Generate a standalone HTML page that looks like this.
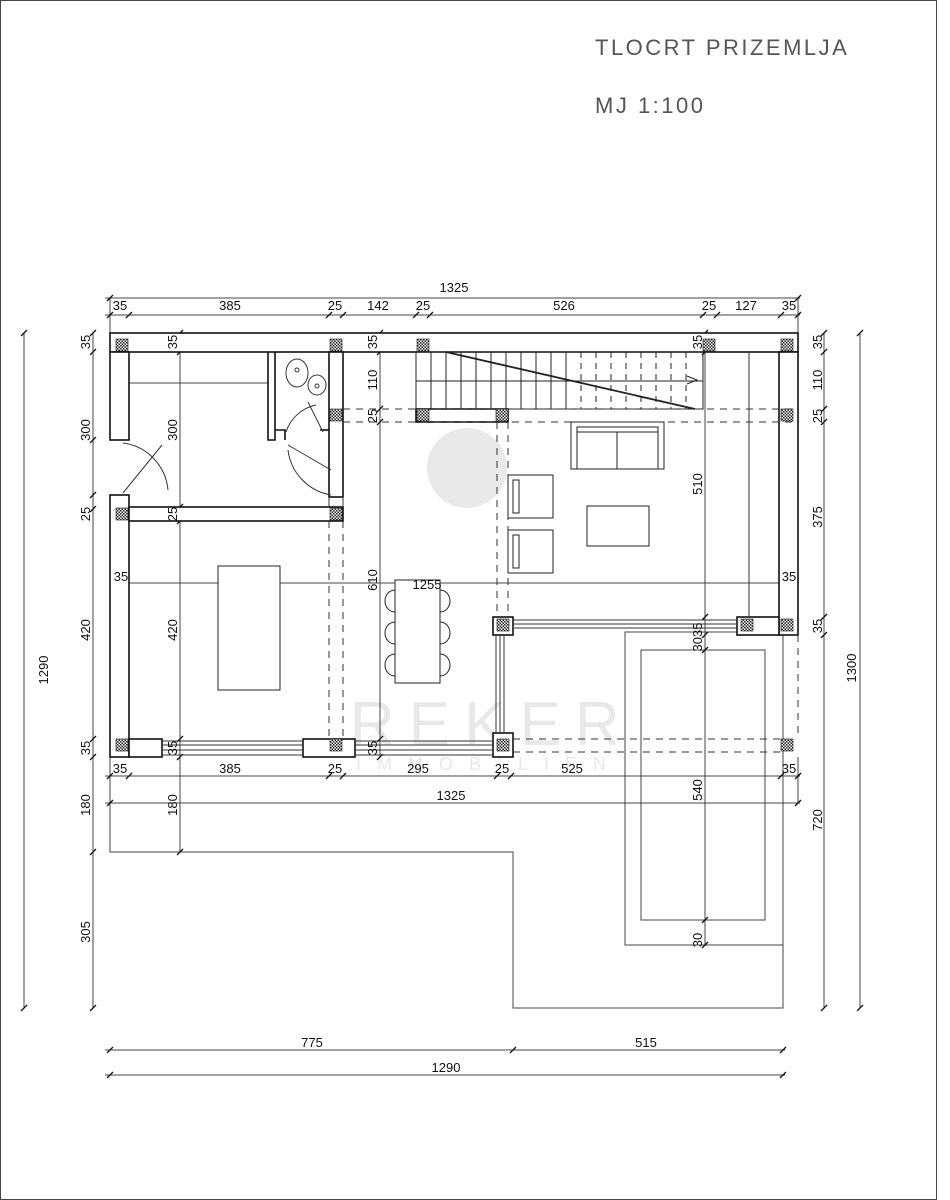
<!DOCTYPE html>
<html><head><meta charset="utf-8"><style>html,body{margin:0;padding:0;background:#fff}svg{display:block}</style></head><body>
<svg width="950" height="1200" viewBox="0 0 950 1200" xmlns="http://www.w3.org/2000/svg" font-family="Liberation Sans, Arial, sans-serif">
<defs>
<pattern id="h" width="3" height="3" patternUnits="userSpaceOnUse"><rect width="3" height="3" fill="#fff"/><rect width="1.5" height="1.5" fill="#222"/><rect x="1.5" y="1.5" width="1.5" height="1.5" fill="#222"/></pattern>
</defs>
<rect x="0.5" y="0.5" width="936" height="1199" fill="none" stroke="#444" stroke-width="1"/>
<text x="595" y="55" font-size="22" letter-spacing="2.5" fill="#555">TLOCRT PRIZEMLJA</text>
<text x="595" y="113" font-size="22" letter-spacing="2.5" fill="#555">MJ 1:100</text>

<!-- watermark -->
<g opacity="0.13" fill="#555">
<circle cx="467" cy="468" r="40"/>
<text x="350" y="745" font-size="62" letter-spacing="14">REKER</text>
<text x="356" y="770" font-size="18" letter-spacing="16">IMMOBILIEN</text>
</g>

<g stroke="#444" stroke-width="1" fill="none">
<line x1="105" y1="298" x2="800" y2="298"/>
<line x1="105" y1="315" x2="800" y2="315"/>
<line x1="24" y1="333" x2="24" y2="1008"/>
<line x1="93" y1="333" x2="93" y2="1008"/>
<line x1="180" y1="333" x2="180" y2="852"/>
<line x1="380" y1="333" x2="380" y2="757"/>
<line x1="705" y1="333" x2="705" y2="945"/>
<line x1="824" y1="333" x2="824" y2="1008"/>
<line x1="860" y1="333" x2="860" y2="1008"/>
<line x1="105" y1="776" x2="800" y2="776"/>
<line x1="105" y1="803" x2="800" y2="803"/>
<line x1="105" y1="1050" x2="785" y2="1050"/>
<line x1="105" y1="1075" x2="785" y2="1075"/>
<line x1="110" y1="757" x2="110" y2="803"/>
<line x1="798" y1="757" x2="798" y2="803"/>
<line x1="110" y1="298" x2="110" y2="333"/>
<line x1="798" y1="298" x2="798" y2="333"/>
<line x1="129" y1="583" x2="798" y2="583"/>
<line x1="129" y1="383" x2="268" y2="383"/>
<polyline points="110,803 110,852 513,852 513,1008 783,1008 783,757"/>
<rect x="625" y="632" width="158" height="313"/>
<rect x="641" y="650" width="124" height="270"/>
</g>

<g stroke="#111" stroke-width="1.3">
<path d="M107,318 l6,-6 M126,318 l6,-6 M326,318 l6,-6 M340,318 l6,-6 M413,318 l6,-6 M427,318 l6,-6 M700,318 l6,-6 M714,318 l6,-6 M778,318 l6,-6 M795,318 l6,-6 M107,301 l6,-6 M795,301 l6,-6"/>
<path d="M107,779 l6,-6 M126,779 l6,-6 M326,779 l6,-6 M340,779 l6,-6 M494,779 l6,-6 M508,779 l6,-6 M778,779 l6,-6 M795,779 l6,-6 M107,806 l6,-6 M795,806 l6,-6 M107,1053 l6,-6 M510,1053 l6,-6 M780,1053 l6,-6 M107,1078 l6,-6 M780,1078 l6,-6"/>
<path d="M21,336 l6,-6 M21,1011 l6,-6 M90,336 l6,-6 M90,355 l6,-6 M90,443 l6,-6 M90,498 l6,-6 M90,512 l6,-6 M90,742 l6,-6 M90,760 l6,-6 M90,855 l6,-6 M90,1011 l6,-6 M177,336 l6,-6 M177,355 l6,-6 M177,510 l6,-6 M177,524 l6,-6 M177,742 l6,-6 M177,760 l6,-6 M177,855 l6,-6 M377,336 l6,-6 M377,355 l6,-6 M377,412 l6,-6 M377,425 l6,-6 M377,742 l6,-6 M377,760 l6,-6"/>
<path d="M821,336 l6,-6 M821,355 l6,-6 M821,412 l6,-6 M821,425 l6,-6 M821,620 l6,-6 M821,638 l6,-6 M821,1011 l6,-6 M857,336 l6,-6 M857,1011 l6,-6 M702,336 l6,-6 M702,355 l6,-6 M702,620 l6,-6 M702,638 l6,-6 M702,653 l6,-6 M702,923 l6,-6 M702,948 l6,-6"/>
</g>

<g stroke="#111" stroke-width="1.6" fill="#fff">
<rect x="110" y="333" width="688" height="19"/>
<rect x="110" y="352" width="19" height="88"/>
<rect x="110" y="495" width="19" height="262"/>
<rect x="129" y="739" width="33" height="18"/>
<rect x="129" y="507" width="214" height="14"/>
<rect x="329" y="352" width="14" height="145"/>
<rect x="779" y="352" width="19" height="283"/>
<rect x="737" y="617" width="42" height="18"/>
<rect x="303" y="739" width="52" height="18"/>
<rect x="493" y="617" width="20" height="18"/>
<rect x="493" y="733" width="20" height="24"/>
<rect x="416" y="409" width="92" height="13"/>
<path d="M268,352 V440 H275 V352" fill="none"/>
<path d="M275,430 H285 V440" fill="none"/>
<path d="M320,430 H329" fill="none"/>
</g>
<g stroke="#333" stroke-width="1" fill="none">
<path d="M162,741 H303 M162,745 H303 M162,750 H303 M162,755 H303"/>
<path d="M355,741 H493 M355,745 H493 M355,750 H493 M355,755 H493"/>
<path d="M513,620 H737 M513,624 H737 M513,628 H737"/>
<path d="M496,635 V733 M500,635 V733 M504,635 V733"/>
<line x1="329" y1="497" x2="329" y2="507"/>
<line x1="343" y1="497" x2="343" y2="507"/>
<line x1="123" y1="493" x2="162" y2="445"/>
<path d="M123,443 A52,52 0 0 1 168,490"/>
<line x1="288" y1="445" x2="331" y2="470"/>
<path d="M288,450 A52,52 0 0 0 331,495"/>
<line x1="308" y1="402" x2="323" y2="432"/>
<path d="M286,432 A40,40 0 0 1 316,405"/>
<ellipse cx="297" cy="373" rx="11" ry="14"/>
<circle cx="297" cy="370" r="2"/>
<ellipse cx="317" cy="385" rx="9" ry="10"/>
<circle cx="317" cy="386" r="2"/>
</g>
<g stroke="#222" stroke-width="1" fill="none">
<rect x="416" y="352" width="287" height="57"/>
<line x1="416" y1="381" x2="703" y2="381"/>
<path d="M431,352V409 M446,352V409 M461,352V409 M476,352V409 M491,352V409 M506,352V409 M521,352V409 M536,352V409 M551,352V409 M566,352V409"/>
<path d="M581,352V409 M596,352V409 M611,352V409 M626,352V409 M641,352V409 M656,352V409 M671,352V409 M686,352V409" stroke-dasharray="6,5"/>
<line x1="446" y1="352" x2="695" y2="409" stroke-width="1.8"/>
<path d="M687,376 L697,380 L687,384"/>
</g>
<g stroke="#333" stroke-width="1" fill="none" stroke-dasharray="7,6">
<path d="M343,409 H798 M343,422 H798"/>
<path d="M329,521 V739 M343,521 V739"/>
<path d="M497,422 V617 M508,422 V617"/>
<path d="M513,739 H781 M513,752 H781"/>
<path d="M798,635 V739"/>
</g>
<g stroke="#333" fill="none"><line x1="749" y1="352" x2="749" y2="617"/></g>
<g stroke="#222" stroke-width="1" fill="#fff">
<rect x="571" y="422" width="93" height="47"/>
<rect x="577" y="427" width="81" height="42"/>
<line x1="617" y1="432" x2="617" y2="469"/>
<line x1="577" y1="432" x2="658" y2="432"/>
<rect x="508" y="475" width="45" height="43"/><rect x="513" y="480" width="6" height="33"/>
<rect x="508" y="530" width="45" height="43"/><rect x="513" y="535" width="6" height="33"/>
<rect x="587" y="506" width="62" height="40"/>
<rect x="218" y="566" width="62" height="124"/>
<rect x="395" y="580" width="45" height="103"/>
<path d="M395,590 A10,11 0 0 0 395,612 M395,622 A10,11 0 0 0 395,644 M395,654 A10,11 0 0 0 395,676 M440,590 A10,11 0 0 1 440,612 M440,622 A10,11 0 0 1 440,644 M440,654 A10,11 0 0 1 440,676" fill="none"/>
</g>
<g fill="url(#h)" stroke="#111" stroke-width="0.6">
<rect x="116" y="339" width="12" height="12"/><rect x="330" y="339" width="12" height="12"/><rect x="417" y="339" width="12" height="12"/><rect x="703" y="339" width="12" height="12"/><rect x="781" y="339" width="12" height="12"/>
<rect x="330" y="409" width="12" height="12"/><rect x="417" y="409" width="12" height="12"/><rect x="496" y="409" width="12" height="12"/><rect x="781" y="409" width="12" height="12"/>
<rect x="116" y="508" width="12" height="12"/><rect x="330" y="508" width="12" height="12"/>
<rect x="497" y="619" width="12" height="12"/><rect x="741" y="619" width="12" height="12"/><rect x="781" y="619" width="12" height="12"/>
<rect x="116" y="739" width="12" height="12"/><rect x="330" y="739" width="12" height="12"/><rect x="497" y="739" width="12" height="12"/><rect x="781" y="739" width="12" height="12"/>
</g>

<g font-size="13" fill="#111" text-anchor="middle">
<text x="454" y="292">1325</text>
<text x="120" y="310">35</text><text x="230" y="310">385</text><text x="335" y="310">25</text><text x="378" y="310">142</text><text x="423" y="310">25</text><text x="564" y="310">526</text><text x="709" y="310">25</text><text x="746" y="310">127</text><text x="789" y="310">35</text>
<text x="120" y="773">35</text><text x="230" y="773">385</text><text x="335" y="773">25</text><text x="418" y="773">295</text><text x="502" y="773">25</text><text x="572" y="773">525</text><text x="789" y="773">35</text>
<text x="451" y="800">1325</text>
<text x="312" y="1047">775</text><text x="646" y="1047">515</text><text x="446" y="1072">1290</text>
<text x="427" y="589">1255</text>
</g>
<g font-size="13" fill="#111" text-anchor="middle">
<text transform="translate(48,670) rotate(-90)">1290</text>
<text transform="translate(90,342) rotate(-90)">35</text>
<text transform="translate(90,430) rotate(-90)">300</text>
<text transform="translate(90,514) rotate(-90)">25</text>
<text transform="translate(90,630) rotate(-90)">420</text>
<text transform="translate(90,748) rotate(-90)">35</text>
<text transform="translate(90,805) rotate(-90)">180</text>
<text transform="translate(90,932) rotate(-90)">305</text>
<text transform="translate(177,342) rotate(-90)">35</text>
<text transform="translate(177,430) rotate(-90)">300</text>
<text transform="translate(177,514) rotate(-90)">25</text>
<text transform="translate(177,630) rotate(-90)">420</text>
<text transform="translate(177,748) rotate(-90)">35</text>
<text transform="translate(177,805) rotate(-90)">180</text>
<text transform="translate(377,342) rotate(-90)">35</text>
<text transform="translate(377,380) rotate(-90)">110</text>
<text transform="translate(377,416) rotate(-90)">25</text>
<text transform="translate(377,580) rotate(-90)">610</text>
<text transform="translate(377,748) rotate(-90)">35</text>
<text transform="translate(702,342) rotate(-90)">35</text>
<text transform="translate(702,484) rotate(-90)">510</text>
<text transform="translate(702,637) rotate(-90)">3035</text>
<text transform="translate(702,790) rotate(-90)">540</text>
<text transform="translate(702,940) rotate(-90)">30</text>
<text transform="translate(822,342) rotate(-90)">35</text>
<text transform="translate(822,380) rotate(-90)">110</text>
<text transform="translate(822,416) rotate(-90)">25</text>
<text transform="translate(822,517) rotate(-90)">375</text>
<text transform="translate(822,626) rotate(-90)">35</text>
<text transform="translate(822,820) rotate(-90)">720</text>
<text transform="translate(856,668) rotate(-90)">1300</text>
</g>
<g font-size="13" fill="#111" text-anchor="middle">
<text x="121" y="581">35</text><text x="789" y="581">35</text>
</g>
</svg>
</body></html>
